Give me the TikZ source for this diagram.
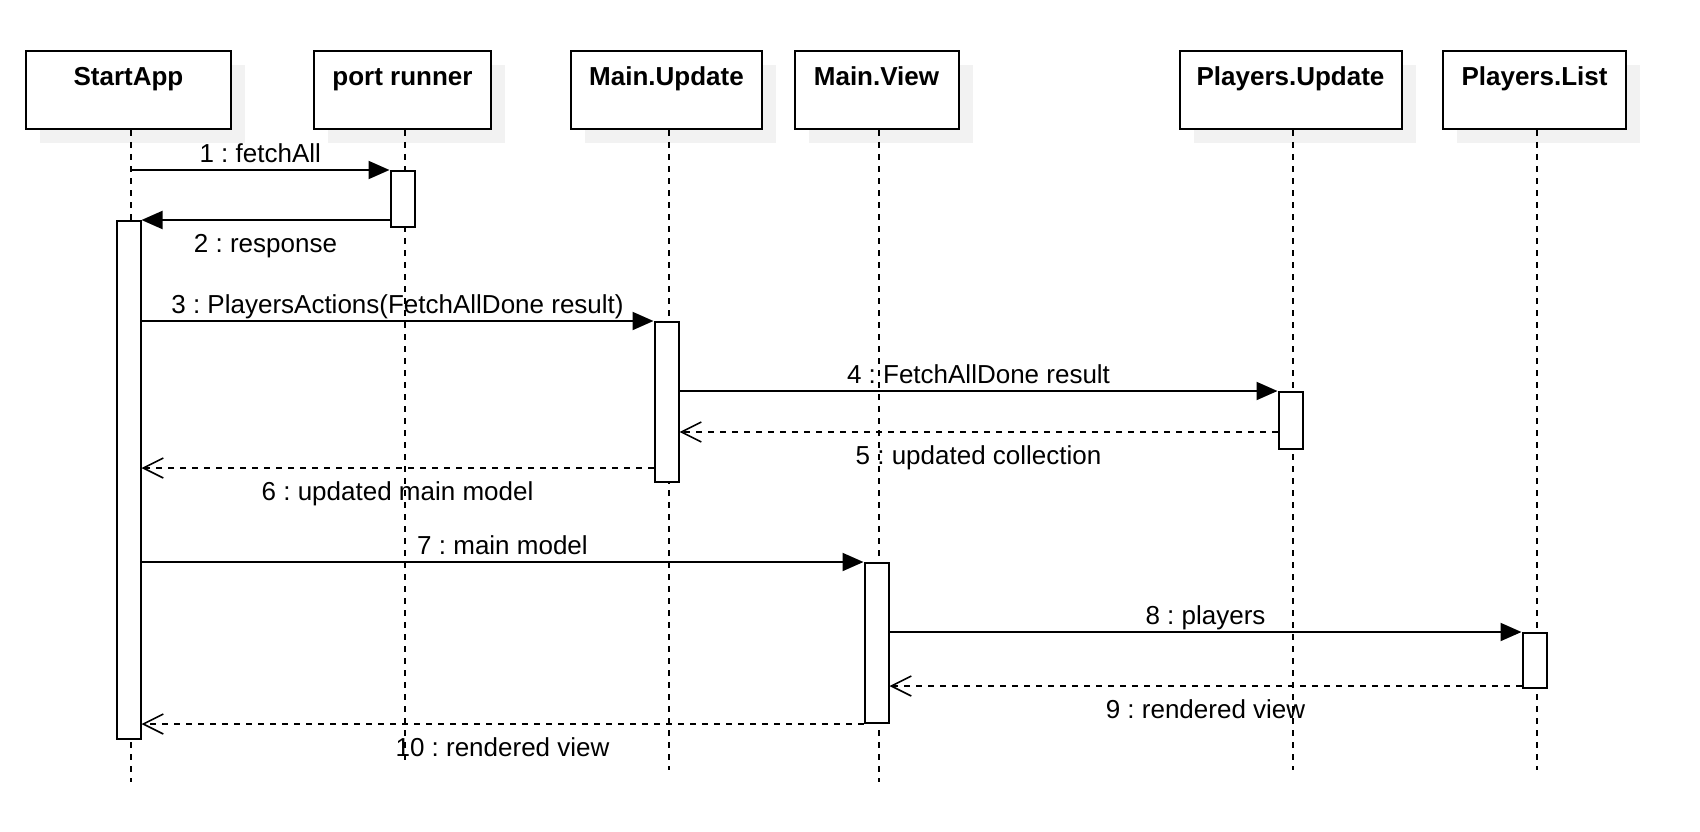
\documentclass[tikz,border=0pt]{standalone}
\usepackage{fontspec}
\setmainfont{Liberation Sans}
\usetikzlibrary{arrows.meta, shadows}

\begin{document}
\frenchspacing
\begin{tikzpicture}[x=1pt, y=-1pt,
    every node/.style={font=\fontsize{26}{30}\selectfont},
    actor/.style={draw, line width=2pt, fill=white, inner sep=0pt, anchor=north,
        text height=35pt, text depth=43pt, font=\fontsize{26}{30}\selectfont\bfseries,
        drop shadow={shadow xshift=14pt, shadow yshift=-14pt, fill=black!5, opacity=1}},
    activation/.style={draw, line width=2pt, fill=white, inner sep=0pt,
        minimum width=24pt, anchor=north},
    lifeline/.style={line width=1.8pt, dash pattern=on 6pt off 6pt},
    msg/.style={line width=2pt, -{Triangle[length=21pt, width=18pt]}},
    reply/.style={line width=1.8pt, dash pattern=on 6pt off 6pt,
        -{Straight Barb[length=20pt, width=20pt, line width=1.6pt]}},
    lblabove/.style={midway, anchor=base, yshift=8pt},
    lblbelow/.style={midway, anchor=base, yshift=-32pt}]
    \useasboundingbox (0,0) rectangle (1700,832);

    \node[actor, minimum width=205pt] (startapp) at (128.5,50) {StartApp};
    \node[actor, minimum width=177pt] (portrunner) at (402.5,50) {port runner};
    \node[actor, minimum width=191pt] (mainupdate) at (666.5,50) {Main.Update};
    \node[actor, minimum width=164pt] (mainview) at (876.5,50) {Main.View};
    \node[actor, minimum width=222pt] (playersupdate) at (1290.5,50) {Players.Update};
    \node[actor, minimum width=183pt] (playerslist) at (1534.5,50) {Players.List};

    \foreach \n/\e in {startapp/782, portrunner/760, mainupdate/770, mainview/782,
        playersupdate/770, playerslist/770}{
        \coordinate (\n-l) at ([xshift=2.5pt]\n.south);
        \draw[lifeline] (\n-l) -- (\n-l |- 0,\e);
    }

    \node[activation, minimum height=56pt] (act1) at (portrunner.south |- 0,170) {};
    \node[activation, minimum height=518pt] (act2) at (startapp.south |- 0,220) {};
    \node[activation, minimum height=160pt] (act3) at (mainupdate.south |- 0,321) {};
    \node[activation, minimum height=57pt] (act4) at (playersupdate.south |- 0,391) {};
    \node[activation, minimum height=160pt] (act5) at (mainview.south |- 0,562) {};
    \node[activation, minimum height=55pt] (act6) at (playerslist.south |- 0,632) {};

    \draw[msg] (startapp-l |- act1.north) -- node[lblabove] {1 : fetchAll} (act1.north west);
    \draw[msg] (act1.west |- act2.north) -- node[lblbelow] {2 : response} (act2.north east);
    \draw[msg] (act2.east |- act3.north) -- node[lblabove] {3 : PlayersActions(FetchAllDone result)} (act3.north west);
    \draw[msg] (act3.east |- act4.north) -- node[lblabove] {4 : FetchAllDone result} (act4.north west);
    \coordinate (r5) at ([yshift=18pt]act4.south west);
    \draw[reply] (r5) -- node[lblbelow] {5 : updated collection} (act3.east |- r5);
    \coordinate (r6) at ([yshift=15pt]act3.south west);
    \draw[reply] (r6) -- node[lblbelow] {6 : updated main model} (act2.east |- r6);
    \draw[msg] (act2.east |- act5.north) -- node[lblabove] {7 : main model} (act5.north west);
    \draw[msg] (act5.east |- act6.north) -- node[lblabove] {8 : players} (act6.north west);
    \coordinate (r9) at ([yshift=3pt]act6.south west);
    \draw[reply] (r9) -- node[lblbelow] {9 : rendered view} (act5.east |- r9);
    \draw[reply] (act5.south west) -- node[lblbelow] {10 : rendered view} (act2.east |- act5.south);
\end{tikzpicture}
\end{document}
